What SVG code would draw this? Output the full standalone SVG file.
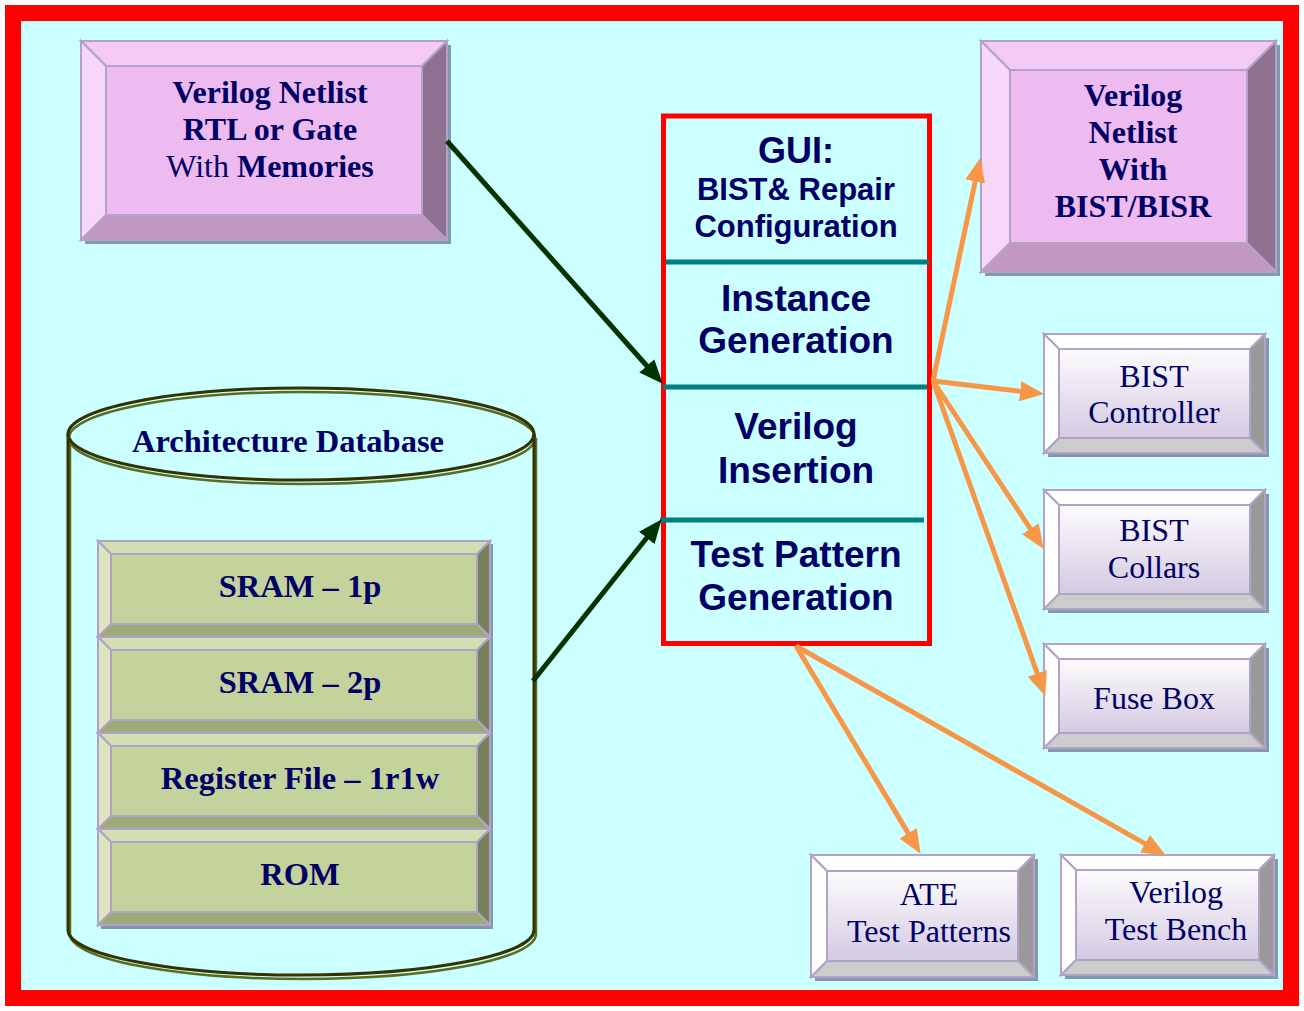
<svg xmlns="http://www.w3.org/2000/svg" width="1304" height="1011" viewBox="0 0 1304 1011">
<defs>
<linearGradient id="wface" x1="0" y1="0" x2="0" y2="1">
<stop offset="0" stop-color="#FCFBFD"/>
<stop offset="1" stop-color="#D5CAE2"/>
</linearGradient>
<marker id="ago" markerUnits="userSpaceOnUse" markerWidth="24" markerHeight="20" viewBox="0 0 24 20" refX="13" refY="10" orient="auto">
<path d="M0,0 L24,10 L0,20 z" fill="#F79646"/>
</marker>
<marker id="agg" markerUnits="userSpaceOnUse" markerWidth="24" markerHeight="20" viewBox="0 0 24 20" refX="13" refY="10" orient="auto">
<path d="M0,0 L24,10 L0,20 z" fill="#003300"/>
</marker>
</defs>
<style>
.bd{stroke:#B3A2C7;stroke-width:2;stroke-linejoin:miter}
.sh{fill:#8497B0}
.pt{fill:#F3C9F5}.pl{fill:#F8D6F9}.pf{fill:#EEBBF0}.pr{fill:#8F7190}.pb{fill:#C098C2}
.wt{fill:#FFFFFF}.wl{fill:#FFFFFF}.wf{fill:url(#wface)}.wr{fill:#999999}.wb{fill:#CCCCCC}
.gt{fill:#D0DEB0}.gl{fill:#DCE5C0}.gf{fill:#C3D39B}.gr{fill:#76805A}.gb{fill:#9DAA7A}
.tb{font-family:"Liberation Serif","Times New Roman",serif;font-weight:bold;font-size:32px;fill:#000066;text-anchor:middle}
.tg{font-family:"Liberation Serif","Times New Roman",serif;font-weight:bold;font-size:32.5px;fill:#000066;text-anchor:middle}
.tn{font-family:"Liberation Serif","Times New Roman",serif;font-size:32px;fill:#000066;text-anchor:middle}
.ta{font-family:"Liberation Sans",Arial,sans-serif;font-weight:bold;fill:#000066;text-anchor:middle}
.og{stroke:#F79646;stroke-width:5;fill:none;marker-end:url(#ago)}
.gg{stroke:#003300;stroke-width:5;fill:none;marker-end:url(#agg)}
.div{stroke:#008080;stroke-width:5}
</style>
<rect x="13" y="13" width="1278" height="985" fill="#CCFFFF" stroke="#FF0000" stroke-width="16"/>

<g id="netlist-in">
<rect class="sh" x="85" y="45" width="366" height="199"/>
<polygon class="pt bd" points="81,41 447,41 422,66 106,66"/>
<polygon class="pl bd" points="81,41 106,66 106,215 81,240"/>
<polygon class="pr bd" points="447,41 447,240 422,215 422,66"/>
<polygon class="pb bd" points="81,240 106,215 422,215 447,240"/>
<rect class="pf bd" x="106" y="66" width="316" height="149"/>
<text class="tb" x="270" y="103">Verilog Netlist</text>
<text class="tb" x="270" y="140">RTL or Gate</text>
<text class="tb" x="270" y="177"><tspan font-weight="normal">With </tspan>Memories</text>
</g>

<g id="netlist-out">
<rect class="sh" x="985" y="45" width="295" height="231"/>
<polygon class="pt bd" points="981,41 1276,41 1247,70 1010,70"/>
<polygon class="pl bd" points="981,41 1010,70 1010,243 981,272"/>
<polygon class="pr bd" points="1276,41 1276,272 1247,243 1247,70"/>
<polygon class="pb bd" points="981,272 1010,243 1247,243 1276,272"/>
<rect class="pf bd" x="1010" y="70" width="237" height="173"/>
<text class="tb" x="1133" y="106">Verilog</text>
<text class="tb" x="1133" y="143">Netlist</text>
<text class="tb" x="1133" y="180">With</text>
<text class="tb" x="1133" y="217">BIST/BISR</text>
</g>

<g id="bist-controller">
<rect class="sh" x="1048" y="338" width="221" height="119"/>
<polygon class="wt bd" points="1044,334 1265,334 1250,349 1059,349"/>
<polygon class="wl bd" points="1044,334 1059,349 1059,438 1044,453"/>
<polygon class="wr bd" points="1265,334 1265,453 1250,438 1250,349"/>
<polygon class="wb bd" points="1044,453 1059,438 1250,438 1265,453"/>
<rect class="wf bd" x="1059" y="349" width="191" height="89"/>
<text class="tn" x="1154" y="387">BIST</text>
<text class="tn" x="1154" y="423">Controller</text>
</g>

<g id="bist-collars">
<rect class="sh" x="1048" y="494" width="221" height="119"/>
<polygon class="wt bd" points="1044,490 1265,490 1250,505 1059,505"/>
<polygon class="wl bd" points="1044,490 1059,505 1059,594 1044,609"/>
<polygon class="wr bd" points="1265,490 1265,609 1250,594 1250,505"/>
<polygon class="wb bd" points="1044,609 1059,594 1250,594 1265,609"/>
<rect class="wf bd" x="1059" y="505" width="191" height="89"/>
<text class="tn" x="1154" y="541">BIST</text>
<text class="tn" x="1154" y="578">Collars</text>
</g>

<g id="fuse-box">
<rect class="sh" x="1048" y="648" width="221" height="104"/>
<polygon class="wt bd" points="1044,644 1265,644 1250,659 1059,659"/>
<polygon class="wl bd" points="1044,644 1059,659 1059,733 1044,748"/>
<polygon class="wr bd" points="1265,644 1265,748 1250,733 1250,659"/>
<polygon class="wb bd" points="1044,748 1059,733 1250,733 1265,748"/>
<rect class="wf bd" x="1059" y="659" width="191" height="74"/>
<text class="tn" x="1154" y="709">Fuse Box</text>
</g>

<g id="ate">
<rect class="sh" x="815" y="859" width="223" height="122"/>
<polygon class="wt bd" points="811,855 1034,855 1018,871 827,871"/>
<polygon class="wl bd" points="811,855 827,871 827,961 811,977"/>
<polygon class="wr bd" points="1034,855 1034,977 1018,961 1018,871"/>
<polygon class="wb bd" points="811,977 827,961 1018,961 1034,977"/>
<rect class="wf bd" x="827" y="871" width="191" height="90"/>
<text class="tn" x="929" y="905">ATE</text>
<text class="tn" x="929" y="942">Test Patterns</text>
</g>

<g id="testbench">
<rect class="sh" x="1065" y="859" width="213" height="120"/>
<polygon class="wt bd" points="1061,855 1274,855 1259,870 1076,870"/>
<polygon class="wl bd" points="1061,855 1076,870 1076,960 1061,975"/>
<polygon class="wr bd" points="1274,855 1274,975 1259,960 1259,870"/>
<polygon class="wb bd" points="1061,975 1076,960 1259,960 1274,975"/>
<rect class="wf bd" x="1076" y="870" width="183" height="90"/>
<text class="tn" x="1176" y="903">Verilog</text>
<text class="tn" x="1176" y="940">Test Bench</text>
</g>

<g id="database">
<path d="M70,438 L70,934 A233,45 0 0 0 536,934 L536,438" fill="none" stroke="#5A6B22" stroke-width="2.5"/>
<ellipse cx="302" cy="438" rx="233" ry="46" fill="none" stroke="#5A6B22" stroke-width="2.5"/>
<path d="M68,434 L68,930 A233,45 0 0 0 534,930 L534,434" fill="none" stroke="#333300" stroke-width="3"/>
<ellipse cx="301" cy="434" rx="233" ry="46" fill="none" stroke="#333300" stroke-width="3"/>
<text class="tg" x="288" y="452">Architecture Database</text>
</g>

<g id="sram-1p">
<rect class="sh" x="101" y="544" width="392" height="96"/>
<polygon class="gt bd" points="98,541 490,541 477,554 111,554"/>
<polygon class="gl bd" points="98,541 111,554 111,624 98,637"/>
<polygon class="gr bd" points="490,541 490,637 477,624 477,554"/>
<polygon class="gb bd" points="98,637 111,624 477,624 490,637"/>
<rect class="gf bd" x="111" y="554" width="366" height="70"/>
<text class="tg" x="300" y="597">SRAM – 1p</text>
</g>
<g id="sram-2p">
<rect class="sh" x="101" y="640" width="392" height="96"/>
<polygon class="gt bd" points="98,637 490,637 477,650 111,650"/>
<polygon class="gl bd" points="98,637 111,650 111,720 98,733"/>
<polygon class="gr bd" points="490,637 490,733 477,720 477,650"/>
<polygon class="gb bd" points="98,733 111,720 477,720 490,733"/>
<rect class="gf bd" x="111" y="650" width="366" height="70"/>
<text class="tg" x="300" y="693">SRAM – 2p</text>
</g>
<g id="regfile">
<rect class="sh" x="101" y="736" width="392" height="96"/>
<polygon class="gt bd" points="98,733 490,733 477,746 111,746"/>
<polygon class="gl bd" points="98,733 111,746 111,816 98,829"/>
<polygon class="gr bd" points="490,733 490,829 477,816 477,746"/>
<polygon class="gb bd" points="98,829 111,816 477,816 490,829"/>
<rect class="gf bd" x="111" y="746" width="366" height="70"/>
<text class="tg" x="300" y="789">Register File – 1r1w</text>
</g>
<g id="rom">
<rect class="sh" x="101" y="832" width="392" height="97"/>
<polygon class="gt bd" points="98,829 490,829 477,842 111,842"/>
<polygon class="gl bd" points="98,829 111,842 111,912 98,925"/>
<polygon class="gr bd" points="490,829 490,925 477,912 477,842"/>
<polygon class="gb bd" points="98,925 111,912 477,912 490,925"/>
<rect class="gf bd" x="111" y="842" width="366" height="70"/>
<text class="tg" x="300" y="885">ROM</text>
</g>

<g id="tool">
<rect x="663.5" y="116" width="266" height="527.5" fill="none" stroke="#FF0000" stroke-width="5"/>
<line class="div" x1="666" y1="262" x2="929" y2="262"/>
<line class="div" x1="663" y1="387" x2="927" y2="387"/>
<line class="div" x1="660" y1="520" x2="924" y2="520"/>
<text class="ta" x="796" y="163" font-size="36">GUI:</text>
<text class="ta" x="796" y="200" font-size="31">BIST&amp; Repair</text>
<text class="ta" x="796" y="237" font-size="31">Configuration</text>
<text class="ta" x="796" y="311" font-size="37">Instance</text>
<text class="ta" x="796" y="353" font-size="37">Generation</text>
<text class="ta" x="796" y="439" font-size="37">Verilog</text>
<text class="ta" x="796" y="483" font-size="37">Insertion</text>
<text class="ta" x="796" y="567" font-size="37">Test Pattern</text>
<text class="ta" x="796" y="610" font-size="37">Generation</text>
</g>

<g id="connectors">
<line class="gg" x1="447" y1="141" x2="655.4" y2="375.5"/>
<line class="gg" x1="533" y1="681" x2="654.8" y2="527.8"/>
<line class="og" x1="933" y1="381" x2="977.9" y2="168.8"/>
<line class="og" x1="933" y1="381" x2="1033.1" y2="392.8"/>
<line class="og" x1="933" y1="381" x2="1037.5" y2="539.7"/>
<line class="og" x1="933" y1="381" x2="1041.6" y2="685.6"/>
<line class="og" x1="796" y1="646" x2="914.9" y2="844.4"/>
<line class="og" x1="796" y1="646" x2="1156.3" y2="850.1"/>
</g>
</svg>
